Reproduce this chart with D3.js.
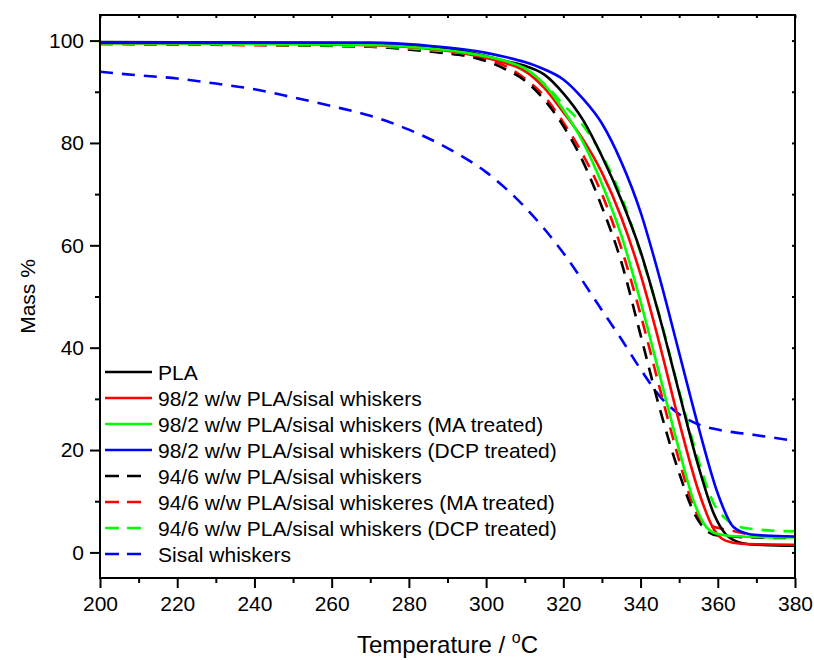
<!DOCTYPE html>
<html>
<head>
<meta charset="utf-8">
<script src="https://cdn.jsdelivr.net/npm/d3@7"></script>
<style>
  html, body { margin: 0; padding: 0; background: #fff; }
  svg { display: block; font-family: "Liberation Sans", Arial, sans-serif; }
</style>
</head>
<body>
<svg id="chart" width="814" height="660"></svg>
<script>
// Thermogravimetric curves: mass % versus temperature (°C)
const seriesNames = [
  "PLA",
  "98/2 w/w PLA/sisal whiskers",
  "98/2 w/w PLA/sisal whiskers (MA treated)",
  "98/2 w/w PLA/sisal whiskers (DCP treated)",
  "94/6 w/w PLA/sisal whiskers",
  "94/6 w/w PLA/sisal whiskeres (MA treated)",
  "94/6 w/w PLA/sisal whiskers (DCP treated)",
  "Sisal whiskers"
];
const seriesColors = ["#000000", "#ff0000", "#00ff00", "#0000ff", "#000000", "#ff0000", "#00ff00", "#0000ff"];
const seriesDashed = [false, false, false, false, true, true, true, true];

// [temperature, mass %]
const pla = [[200,99.7],[240,99.6],[270,99.4],[285,98.8],[295,97.8],[305,96.0],[310,95.1],[315,93.4],[320,89.7],[325,84.6],[330,77.4],[335,68.9],[340,58.8],[345,45.8],[350,31.2],[355,16.8],[359,7.5],[362,3.6],[365,2.1],[368,1.6],[380,1.3]];
const pla98 = [[200,99.5],[240,99.4],[270,99.1],[285,98.4],[295,97.4],[305,95.6],[310,94.1],[315,90.8],[320,86.0],[325,80.8],[330,74.2],[335,65.5],[340,54.3],[345,40.5],[350,25.5],[355,12.0],[359,4.5],[362,2.3],[366,1.7],[380,1.5]];
const pla98MA = [[200,99.5],[240,99.4],[270,99.2],[285,98.5],[295,97.6],[305,96.0],[310,94.6],[315,91.5],[320,86.5],[325,80.3],[330,72.0],[335,62.0],[340,49.0],[345,34.5],[350,20.0],[354,9.5],[357,5.0],[360,3.6],[366,3.1],[380,2.9]];
const pla98DCP = [[200,99.6],[240,99.6],[270,99.6],[285,99.0],[295,98.2],[300,97.6],[305,96.8],[310,95.8],[315,94.4],[320,92.4],[325,88.7],[330,83.8],[335,76.3],[340,66.5],[345,53.5],[350,39.0],[355,24.5],[360,11.5],[364,5.0],[368,3.6],[372,3.3],[380,3.1]];
const pla94 = [[200,99.4],[240,99.2],[270,98.8],[285,97.9],[290,97.5],[295,97.0],[300,96.0],[305,94.4],[310,92.2],[315,88.5],[320,83.3],[325,76.5],[330,67.5],[335,56.8],[340,42.5],[345,28.0],[350,15.5],[354,7.5],[357,4.3],[360,3.3],[370,2.9],[380,2.8]];
const pla94MA = [[200,99.3],[240,99.1],[270,98.8],[285,98.0],[295,97.0],[300,96.3],[305,95.0],[310,92.6],[315,89.2],[320,84.0],[325,77.8],[330,70.0],[335,59.5],[340,46.5],[345,32.0],[350,18.0],[353,10.5],[356,6.0],[360,4.8],[364,4.2],[370,3.3],[380,3.1]];
const pla94DCP = [[200,99.4],[240,99.2],[270,98.9],[285,98.2],[295,97.4],[305,95.8],[310,94.0],[315,91.6],[320,87.5],[325,83.5],[330,77.6],[335,69.6],[340,58.5],[345,46.0],[350,31.5],[355,18.0],[359,9.5],[362,6.6],[365,5.1],[370,4.5],[380,4.1]];
const sisal = [[200,93.9],[210,93.2],[220,92.6],[230,91.6],[240,90.5],[250,88.9],[260,87.2],[270,85.3],[280,82.6],[290,79.0],[300,74.3],[310,67.5],[320,58.5],[330,47.3],[335,41.7],[340,35.8],[345,30.5],[350,27.0],[355,25.0],[360,24.0],[370,22.9],[380,21.8]];

const seriesData = [pla, pla98, pla98MA, pla98DCP, pla94, pla94MA, pla94DCP, sisal];

const xMajorTicks = [200, 220, 240, 260, 280, 300, 320, 340, 360, 380];
const xMinorTicks = [210, 230, 250, 270, 290, 310, 330, 350, 370];
const yMajorTicks = [0, 20, 40, 60, 80, 100];
const yMinorTicks = [10, 30, 50, 70, 90];

const svg = d3.select("#chart");
const plotLeft = 100, plotRight = 795, plotTop = 15, plotBottom = 578;

const x = d3.scaleLinear().domain([200, 380]).range([plotLeft, plotRight]);
const y = d3.scaleLinear().domain([-5, 105]).range([plotBottom, plotTop]);

const clipId = "plot-clip";
svg.append("clipPath").attr("id", clipId)
  .append("rect").attr("x", plotLeft).attr("y", plotTop)
  .attr("width", plotRight - plotLeft).attr("height", plotBottom - plotTop);

const line = d3.line()
  .x(d => x(d[0]))
  .y(d => y(d[1]))
  .curve(d3.curveMonotoneX);

// drawing order: sisal first, dashed composites, then solid composites
const drawOrder = [7, 5, 4, 6, 0, 1, 2, 3];
const plot = svg.append("g").attr("clip-path", `url(#${clipId})`);
drawOrder.forEach(i => {
  plot.append("path")
    .datum(seriesData[i])
    .attr("d", line)
    .attr("fill", "none")
    .attr("stroke", seriesColors[i])
    .attr("stroke-width", 2.6)
    .attr("stroke-dasharray", seriesDashed[i] ? "13,9" : null);
});

// axes
const fontSize = 21;
const axisBottom = svg.append("g").attr("transform", `translate(0,${plotBottom})`)
  .call(d3.axisBottom(x).tickValues(xMajorTicks).tickSize(10).tickPadding(8).tickFormat(d3.format("d")));
const axisBottomMinor = svg.append("g").attr("transform", `translate(0,${plotBottom})`)
  .call(d3.axisBottom(x).tickValues(xMinorTicks).tickSize(5).tickFormat(""));
const axisLeft = svg.append("g").attr("transform", `translate(${plotLeft},0)`)
  .call(d3.axisLeft(y).tickValues(yMajorTicks).tickSize(10).tickPadding(6).tickFormat(d3.format("d")));
const axisLeftMinor = svg.append("g").attr("transform", `translate(${plotLeft},0)`)
  .call(d3.axisLeft(y).tickValues(yMinorTicks).tickSize(5).tickFormat(""));
const axisTop = svg.append("g").attr("transform", `translate(0,${plotTop})`)
  .call(d3.axisTop(x).tickValues(xMajorTicks.concat(xMinorTicks)).tickSize(-3).tickFormat(""));
const axisRight = svg.append("g").attr("transform", `translate(${plotRight},0)`)
  .call(d3.axisRight(y).tickValues(yMajorTicks.concat(yMinorTicks)).tickSize(-3).tickFormat(""));

[axisBottom, axisBottomMinor, axisLeft, axisLeftMinor, axisTop, axisRight].forEach(g => {
  g.select(".domain").remove();
  g.selectAll(".tick line").attr("stroke", "#000").attr("stroke-width", 2);
  g.selectAll(".tick text").attr("fill", "#000").attr("font-size", fontSize)
    .attr("font-family", "'Liberation Sans', Arial, sans-serif");
});

// frame
svg.append("rect")
  .attr("x", plotLeft).attr("y", plotTop)
  .attr("width", plotRight - plotLeft).attr("height", plotBottom - plotTop)
  .attr("fill", "none").attr("stroke", "#000").attr("stroke-width", 2);

// axis titles
svg.append("text")
  .attr("transform", `translate(35,${(plotTop + plotBottom) / 2}) rotate(-90)`)
  .attr("text-anchor", "middle")
  .attr("font-size", fontSize)
  .text("Mass %");

const xTitle = svg.append("text")
  .attr("x", (plotLeft + plotRight) / 2)
  .attr("y", 653)
  .attr("text-anchor", "middle")
  .attr("font-size", 24);
xTitle.append("tspan").text("Temperature / ");
xTitle.append("tspan").attr("font-size", 16).attr("dy", -10).text("o");
xTitle.append("tspan").attr("dy", 10).text("C");

// legend: solid samples span the full key, dashed samples show two dashes
const legendX0 = 105, legendY0 = 372, legendStep = 26;
const legend = svg.append("g");
seriesNames.forEach((name, i) => {
  const yy = legendY0 + i * legendStep;
  legend.append("line")
    .attr("x1", legendX0).attr("x2", seriesDashed[i] ? 141 : 152)
    .attr("y1", yy).attr("y2", yy)
    .attr("stroke", seriesColors[i])
    .attr("stroke-width", 2.6)
    .attr("stroke-dasharray", seriesDashed[i] ? "14,8" : null);
  legend.append("text")
    .attr("x", 158).attr("y", yy)
    .attr("dy", "0.36em")
    .attr("font-size", fontSize)
    .text(name);
});
</script>
</body>
</html>
